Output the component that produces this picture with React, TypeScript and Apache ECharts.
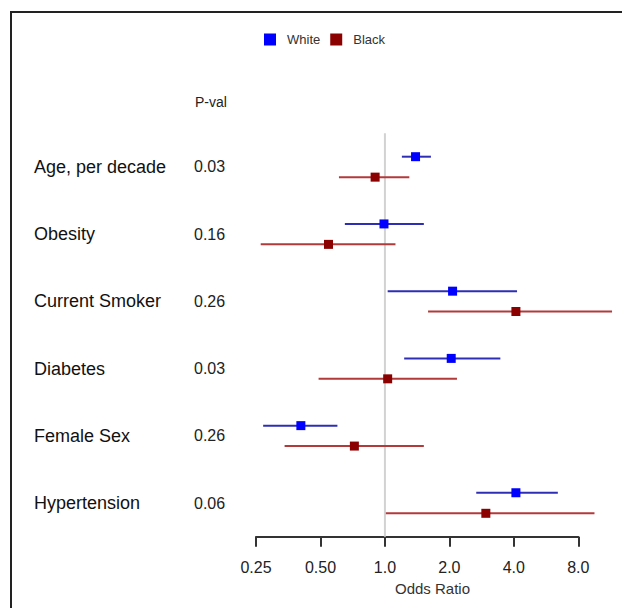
import React, { useEffect, useRef } from 'react';
import * as echarts from 'echarts';

const categories = ['Age, per decade', 'Obesity', 'Current Smoker', 'Diabetes', 'Female Sex', 'Hypertension'];
const pValues = ['0.03', '0.16', '0.26', '0.03', '0.26', '0.06'];

const whiteEst = [1.39, 0.99, 2.07, 2.04, 0.405, 4.09];
const whiteLow = [1.2, 0.65, 1.03, 1.23, 0.27, 2.67];
const whiteHigh = [1.64, 1.52, 4.14, 3.46, 0.6, 6.42];

const blackEst = [0.9, 0.545, 4.09, 1.03, 0.72, 2.96];
const blackLow = [0.61, 0.263, 1.59, 0.49, 0.34, 1.01];
const blackHigh = [1.3, 1.12, 11.5, 2.17, 1.52, 9.52];

const xTicks = [0.25, 0.5, 1, 2, 4, 8];
const refValue = 1;

const FONT = '"Liberation Sans", Arial, Helvetica, sans-serif';

function makeRender(offset: number, lineColor: string, boxColor: string, boxSize: number) {
  return (params: any, api: any) => {
    const row = api.value(3);
    const band = api.size([0, 1])[1];
    const dy = offset * band;
    const lo = api.coord([api.value(0), row]);
    const est = api.coord([api.value(1), row]);
    const hi = api.coord([api.value(2), row]);
    const y = est[1] + dy;
    return {
      type: 'group',
      children: [
        {
          type: 'line',
          shape: { x1: lo[0], y1: y, x2: hi[0], y2: y },
          style: { stroke: lineColor, lineWidth: 2 },
        },
        {
          type: 'rect',
          shape: { x: est[0] - boxSize / 2, y: y - boxSize / 2, width: boxSize, height: boxSize },
          style: { fill: boxColor },
        },
      ],
    };
  };
}

export default function App() {
  const ref = useRef<HTMLDivElement>(null);

  useEffect(() => {
    if (!ref.current) return;
    const chart = echarts.init(ref.current, undefined, { renderer: 'svg' });

    const whiteData = categories.map((_, i) => [whiteLow[i], whiteEst[i], whiteHigh[i], i]);
    const blackData = categories.map((_, i) => [blackLow[i], blackEst[i], blackHigh[i], i]);

    const option: any = {
      animation: false,
      backgroundColor: '#ffffff',
      textStyle: { fontFamily: FONT },
      legend: {
        left: 264,
        top: 33,
        padding: 0,
        itemWidth: 12,
        itemHeight: 12,
        itemGap: 10,
        icon: 'rect',
        data: [
          { name: 'White', icon: 'rect' },
          { name: 'Black', icon: 'rect' },
        ],
        textStyle: { fontSize: 13, color: '#333', fontFamily: FONT, padding: [0, 0, 0, 6] },
      },
      grid: {
        left: 256,
        right: 43.7,
        top: 133.3,
        bottom: 71.3,
        containLabel: false,
        outerBoundsMode: 'none',
      },
      xAxis: {
        type: 'log',
        logBase: 2,
        min: xTicks[0],
        max: xTicks[xTicks.length - 1],
        splitNumber: xTicks.length - 1,
        axisLine: { show: true, lineStyle: { color: '#333', width: 2 } },
        axisTick: { show: true, length: 10, inside: false, lineStyle: { color: '#333', width: 2 } },
        minorTick: { show: false },
        splitLine: { show: false },
        axisLabel: {
          fontSize: 16,
          color: '#222',
          fontFamily: FONT,
          margin: 23,
          formatter: (v: number) => (v < 1 ? v.toFixed(2) : v.toFixed(1)),
        },
      },
      yAxis: [
        {
          type: 'category',
          data: categories,
          inverse: true,
          position: 'left',
          axisLine: { show: false },
          axisTick: { show: false },
          splitLine: { show: false },
          axisLabel: { align: 'left', margin: 222, fontSize: 18, color: '#111', fontFamily: FONT },
        },
        {
          type: 'category',
          data: categories,
          inverse: true,
          position: 'left',
          offset: 0,
          axisLine: { show: false },
          axisTick: { show: false },
          splitLine: { show: false },
          axisLabel: {
            align: 'left',
            margin: 62,
            fontSize: 16,
            color: '#222',
            fontFamily: FONT,
            formatter: (_v: string, i: number) => pValues[i],
          },
        },
      ],
      series: [
        {
          name: 'ref',
          type: 'custom',
          silent: true,
          data: [[refValue, 0]],
          encode: { x: 0, y: 1 },
          renderItem: (params: any, api: any) => {
            const p = api.coord([api.value(0), 0]);
            const cs = params.coordSys;
            return {
              type: 'line',
              shape: { x1: p[0], y1: cs.y, x2: p[0], y2: cs.y + cs.height },
              style: { stroke: '#d2d2d2', lineWidth: 2 },
            };
          },
          z: 1,
        },
        {
          name: 'White',
          type: 'custom',
          itemStyle: { color: '#0000ff' },
          data: whiteData,
          encode: { x: [0, 1, 2], y: 3 },
          renderItem: makeRender(-0.152, '#2e2eb4', '#0000ff', 9),
          z: 3,
        },
        {
          name: 'Black',
          type: 'custom',
          itemStyle: { color: '#8b0000' },
          data: blackData,
          encode: { x: [0, 1, 2], y: 3 },
          renderItem: makeRender(0.152, '#b33a3a', '#8b0000', 9),
          z: 3,
        },
      ],
      graphic: [
        {
          type: 'polyline',
          shape: { points: [[11, 608], [11, 12], [622, 12]] },
          style: { stroke: '#222', lineWidth: 2, fill: null },
          silent: true,
        },
        {
          type: 'text',
          left: 195,
          top: 95,
          style: { text: 'P-val', fontSize: 14, fill: '#222', fontFamily: FONT },
        },
        {
          type: 'text',
          x: 432.5,
          y: 588,
          style: {
            text: 'Odds Ratio',
            fontSize: 15,
            fill: '#333',
            fontFamily: FONT,
            align: 'center',
            verticalAlign: 'middle',
          },
        },
      ],
    };

    chart.setOption(option);
    return () => {
      chart.dispose();
    };
  }, []);

  return (
    <div
      ref={ref}
      style={{ position: 'absolute', left: 0, top: 0, width: 622, height: 608, background: '#fff' }}
    />
  );
}
